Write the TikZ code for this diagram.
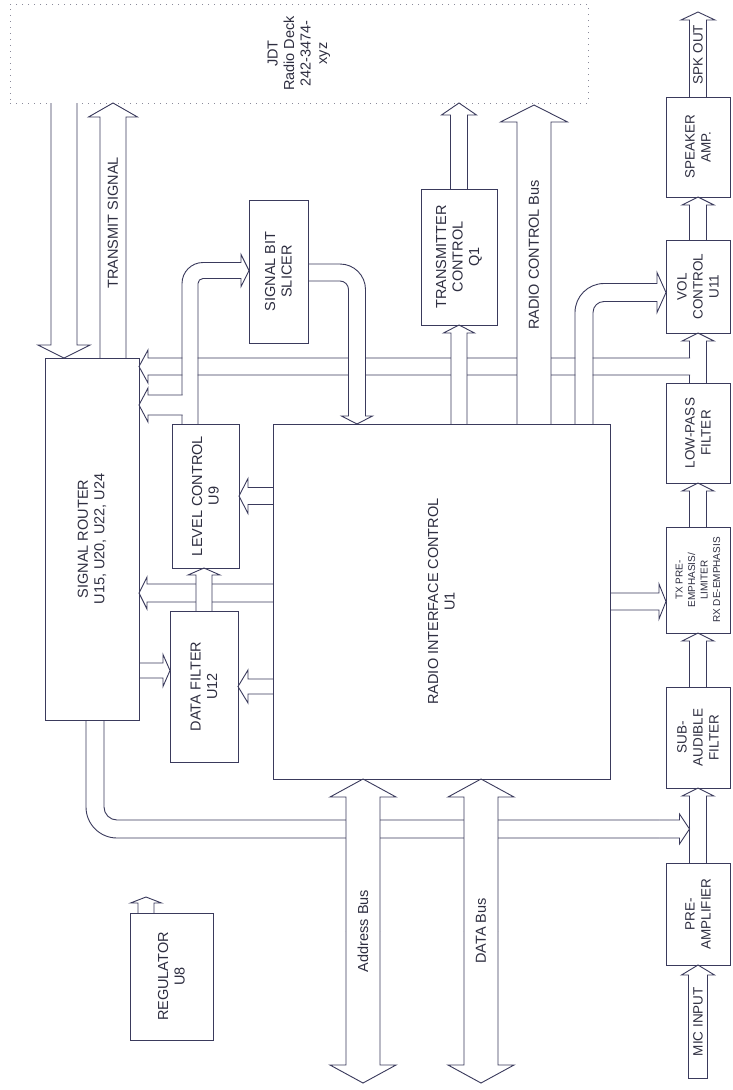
\documentclass[tikz,border=0pt]{standalone}
\usepackage{fontspec}
\setmainfont{Liberation Sans}
\usetikzlibrary{calc}
\definecolor{ink}{HTML}{3A3A5C}
\definecolor{txt}{HTML}{2E2E40}
\definecolor{dotgray}{HTML}{8A8A9A}
\tikzset{
  block/.style={draw=ink, line width=0.9pt, fill=white, inner sep=0pt, outer sep=0pt},
  deckbox/.style={draw=dotgray, line width=1pt, dash pattern=on 1pt off 5pt,
                  inner sep=0pt, outer sep=0pt},
  vtext/.style={rotate=90, align=center, text=txt, inner sep=0pt,
                font=\fontsize{14.5}{16.5}\selectfont},
  coltext/.style={vtext, font=\fontsize{13.5}{16}\selectfont},
  tinytext/.style={vtext, font=\fontsize{10}{12.5}\selectfont},
  buslabel/.style={vtext},
  edge/.style={draw=ink, line width=0.9pt},
  bore/.style={draw=white, line width=#1}
}
% straight open arrow: from, tip, shaft half-width, head half-width, head length
\newcommand{\hollowarrow}[5]{%
  \coordinate (ha-base) at ($(#2)!#5!(#1)$);
  \fill[white] ($(#1)!#3!90:(ha-base)$) -- ($(#1)!#3!-90:(ha-base)$)
    -- ($(ha-base)!#3!90:(#1)$) -- ($(ha-base)!#3!-90:(#1)$) -- cycle;
  \fill[white] ($(ha-base)!#4!90:(#2)$) -- (#2) -- ($(ha-base)!#4!-90:(#2)$) -- cycle;
  \draw[edge] ($(#1)!#3!90:(ha-base)$) -- ($(ha-base)!#3!-90:(#1)$)
    -- ($(ha-base)!#4!-90:(#1)$) -- (#2) -- ($(ha-base)!#4!90:(#1)$)
    -- ($(ha-base)!#3!90:(#1)$) -- ($(#1)!#3!-90:(ha-base)$);
}

\begin{document}
\begin{tikzpicture}[x=1pt,y=1pt]
  \fill[white] (0,0) rectangle (732,-1090);
  \useasboundingbox (0,0) rectangle (732,-1090);

  % blocks
  \node[deckbox, minimum width=578pt, minimum height=99pt] (deck) at (299,-53.5) {};
  \node[block, minimum width=94pt, minimum height=362pt] (router) at (92,-539) {};
  \node[block, minimum width=59pt, minimum height=143pt] (slicer) at (278.5,-271.5) {};
  \node[block, minimum width=76pt, minimum height=136pt] (txctl) at (459,-257) {};
  \node[block, minimum width=67pt, minimum height=144pt] (level) at (205.5,-496) {};
  \node[block, minimum width=68pt, minimum height=151pt] (dfilt) at (204,-686.5) {};
  \node[block, minimum width=337pt, minimum height=355pt] (ric) at (441.5,-601.5) {};
  \node[block, minimum width=83pt, minimum height=127pt] (reg) at (171.5,-976.5) {};

  \node[block, minimum width=64pt, minimum height=100pt] (spk) at (698,-147) {};
  \node[block, minimum width=64pt, minimum height=93pt] (vol) at (698,-286.5) {};
  \node[block, minimum width=64pt, minimum height=100pt] (lpf) at (698,-433) {};
  \node[block, minimum width=64pt, minimum height=106pt] (txpre) at (698,-580) {};
  \node[block, minimum width=64pt, minimum height=101pt] (sub) at (698,-737.5) {};
  \node[block, minimum width=64pt, minimum height=102pt] (pre) at (698,-914) {};

  % block texts
  \node[vtext] (deck-t) at (deck) {JDT\\Radio Deck\\242-3474-\\xyz};
  \node[vtext] (router-t) at (router) {SIGNAL ROUTER\\U15, U20, U22, U24};
  \node[vtext] (slicer-t) at (slicer) {SIGNAL BIT\\SLICER};
  \node[vtext] (txctl-t) at (txctl) {TRANSMITTER\\CONTROL\\Q1};
  \node[vtext] (level-t) at (level) {LEVEL CONTROL\\U9};
  \node[vtext] (dfilt-t) at (dfilt) {DATA FILTER\\U12};
  \node[vtext] (ric-t) at (ric) {RADIO INTERFACE CONTROL\\U1};
  \node[vtext] (reg-t) at (reg) {REGULATOR\\U8};
  \node[coltext] (spk-t) at (spk) {SPEAKER\\AMP.};
  \node[coltext] (vol-t) at (vol) {VOL\\CONTROL\\U11};
  \node[coltext] (lpf-t) at (lpf) {LOW-PASS\\FILTER};
  \node[tinytext] (txpre-t) at (txpre) {TX PRE-\\EMPHASIS/\\LIMITER\\RX DE-EMPHASIS};
  \node[coltext] (sub-t) at (sub) {SUB-\\AUDIBLE\\FILTER};
  \node[coltext] (pre-t) at (pre) {PRE-\\AMPLIFIER};

  % audio chain up the right column
  \foreach \src/\dst in {pre/sub, sub/txpre, txpre/lpf, lpf/vol, vol/spk} {
    \hollowarrow{\src.north}{\dst.south}{8.5pt}{16pt}{8pt}
  }
  \coordinate (spkout) at ($(spk.north)+(0,85)$);
  \hollowarrow{spk.north}{spkout}{8.5pt}{17pt}{8pt}
  \node[coltext] (spkout-t) at ($(spk.north)!0.5!(spkout)$) {SPK OUT};

  \coordinate (micin) at ($(pre.south)+(0,-113)$);
  \hollowarrow{micin}{pre.south}{9.5pt}{16.5pt}{10pt}
  \draw[edge, line cap=rect] ($(micin)+(-9.5,0)$) -- ($(micin)+(9.5,0)$);
  \node[coltext] (micin-t) at ($(micin)!0.5!(pre.south)$) {MIC INPUT};

  % tap from the filter chain back to the router
  \coordinate (lpbr) at ($(lpf.north)+(-8,16.5)$);
  \hollowarrow{lpbr}{router.east |- lpbr}{8.5pt}{16.5pt}{9pt}

  % router output down to the filter chain
  \coordinate (rbot) at ($(router.south west)+(50,0)$);
  \coordinate (rbtip) at ($(pre.north)+(-8.5,34)$);
  \coordinate (rbrun) at ($(rbtip)+(-30,0)$);
  \draw[bore=17.1pt, rounded corners=22pt] (rbot) |- (rbrun);
  \draw[edge, rounded corners=31pt] ($(rbot)+(-9,0)$) |- ($(rbrun)+(0,-9)$);
  \draw[edge, rounded corners=13pt] ($(rbot)+(9,0)$) |- ($(rbrun)+(0,9)$);
  \hollowarrow{rbrun}{rbtip}{9pt}{15pt}{10pt}

  % deck down into the router, transmit signal back up
  \coordinate (rxin) at ($(router.north west)+(19,0)$);
  \hollowarrow{rxin |- deck.south}{rxin}{13pt}{26pt}{13pt}

  \coordinate (txsig) at ($(router.north west)+(68,0)$);
  \hollowarrow{txsig}{txsig |- deck.south}{13pt}{24.5pt}{14pt}
  \node[buslabel] (txsig-t) at ($(txsig)!0.53!(txsig |- deck.south)$) {TRANSMIT SIGNAL};

  % level control up to the slicer, with a tap to the router
  \coordinate (lvup) at ($(level.north west)+(18,0)$);
  \coordinate (slin) at ($(slicer.west)+(0,1)$);
  \coordinate (lvrun) at ($(slin)+(-20,0)$);
  \draw[bore=15.1pt, rounded corners=13pt] (lvup) |- (lvrun);
  \draw[edge, rounded corners=21pt] ($(lvup)+(-8,0)$) |- ($(lvrun)+(0,8)$);
  \draw[edge, rounded corners=5pt] ($(lvup)+(8,0)$) |- ($(lvrun)+(0,-8)$);
  \hollowarrow{lvrun}{slin}{8pt}{16pt}{8pt}

  \coordinate (lvbr) at ($(lvup)+(-7.5,19)$);
  \hollowarrow{lvbr}{router.east |- lvbr}{10pt}{17pt}{9pt}

  % slicer down into the interface controller
  \coordinate (slstart) at ($(slicer.east)+(0,-1)$);
  \coordinate (slout) at ($(ric.north west)+(84,0)$);
  \coordinate (slrun) at ($(slout)+(0,30)$);
  \draw[bore=16.1pt, rounded corners=17pt] (slstart) -| (slrun);
  \draw[edge, rounded corners=25.5pt] ($(slstart)+(0,8.5)$) -| ($(slrun)+(8.5,0)$);
  \draw[edge, rounded corners=8.5pt] ($(slstart)+(0,-8.5)$) -| ($(slrun)+(-8.5,0)$);
  \hollowarrow{slrun}{slout}{8.5pt}{15.5pt}{8pt}

  % transmitter control
  \hollowarrow{txctl.south |- ric.north}{txctl.south}{8pt}{15.5pt}{8pt}
  \hollowarrow{txctl.north}{txctl.north |- deck.south}{8.5pt}{17.5pt}{12pt}

  % radio control bus
  \coordinate (rcbus) at ($(ric.north west)+(261,0)$);
  \coordinate (rcbtip) at ($(rcbus |- deck.south)+(0,-2)$);
  \hollowarrow{rcbus}{rcbtip}{17pt}{33.5pt}{17pt}
  \node[buslabel] (rcbus-t) at ($(rcbus)!0.53!(rcbtip)$) {RADIO CONTROL Bus};

  % volume control feed
  \coordinate (vup) at ($(ric.north west)+(311,0)$);
  \coordinate (vin) at ($(vol.west)+(0,-6)$);
  \coordinate (vrun) at ($(vin)+(-30,0)$);
  \draw[bore=17.1pt, rounded corners=20pt] (vup) |- (vrun);
  \draw[edge, rounded corners=29pt] ($(vup)+(-9,0)$) |- ($(vrun)+(0,9)$);
  \draw[edge, rounded corners=11pt] ($(vup)+(9,0)$) |- ($(vrun)+(0,-9)$);
  \hollowarrow{vrun}{vin}{9pt}{20pt}{9pt}

  % side links of the interface controller
  \hollowarrow{ric.west |- level.east}{level.east}{8.5pt}{17.5pt}{9pt}
  \coordinate (rrt) at ($(ric.west)+(0,8.5)$);
  \hollowarrow{rrt}{router.east |- rrt}{9pt}{16pt}{8pt}
  \hollowarrow{ric.west |- dfilt.east}{dfilt.east}{7.5pt}{16.5pt}{10pt}
  \coordinate (rdf) at ($(dfilt.west)+(0,16)$);
  \hollowarrow{router.east |- rdf}{rdf}{7.5pt}{16pt}{7pt}
  \hollowarrow{dfilt.north}{dfilt.north |- level.south}{8pt}{16pt}{7pt}
  \hollowarrow{ric.east}{txpre.west |- ric.east}{8.5pt}{17.5pt}{7pt}

  % address and data buses
  \coordinate (abus) at ($(ric.south west)+(90,0)$);
  \coordinate (dbus) at ($(ric.south west)+(208,0)$);
  \foreach \bus/\busname in {abus/Address Bus, dbus/DATA Bus} {
    \coordinate (\bus-mid) at ($(\bus)+(0,-152)$);
    \coordinate (\bus-end) at ($(\bus)+(0,-304)$);
    \hollowarrow{\bus-mid}{\bus}{17pt}{33pt}{18pt}
    \hollowarrow{\bus-mid}{\bus-end}{17pt}{33pt}{18pt}
    \node[buslabel] (\bus-t) at (\bus-mid) {\busname};
  }

  % regulator output
  \coordinate (regout) at ($(reg.north west)+(16,16)$);
  \hollowarrow{regout |- reg.north}{regout}{8pt}{15.5pt}{6pt}

  % block outlines once more on top
  \foreach \n in {router, slicer, txctl, level, dfilt, ric, reg, spk, vol, lpf, txpre, sub, pre}
    \draw[edge] (\n.south west) rectangle (\n.north east);
\end{tikzpicture}
\end{document}
